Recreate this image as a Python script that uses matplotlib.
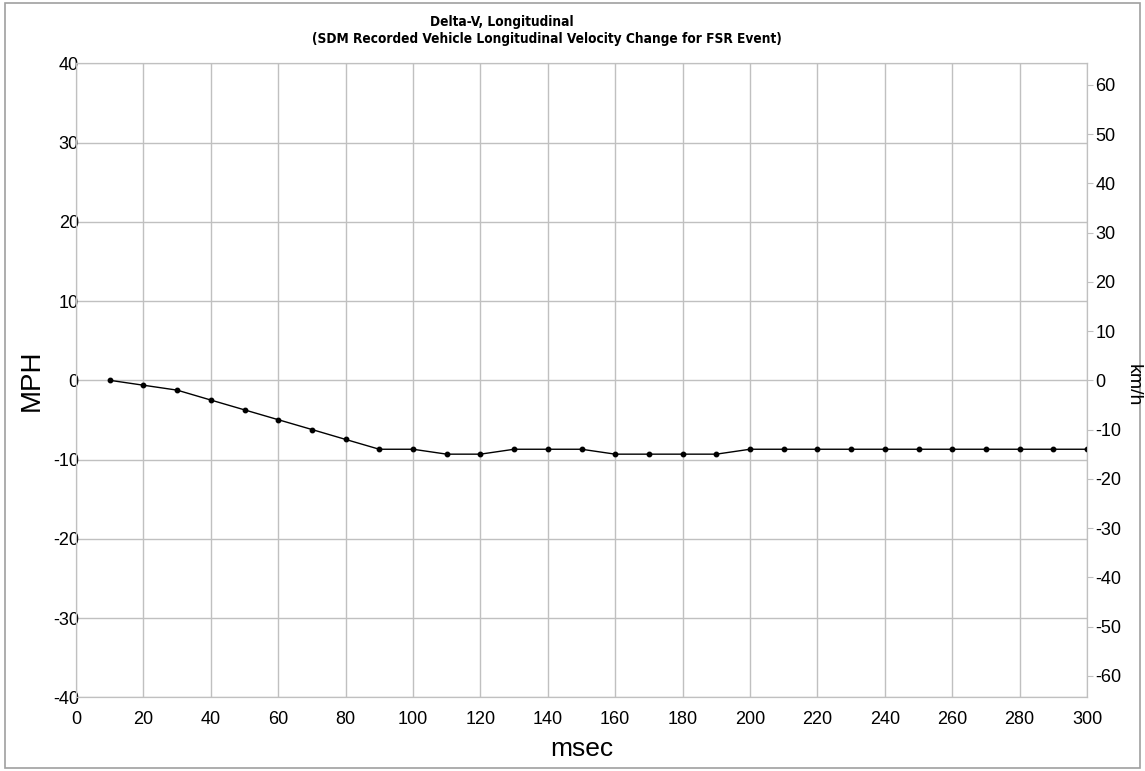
#
# Delta-V longitudinal (SDM recorded) - MPH on the left, km/h on the right
#
import numpy as np
import matplotlib
matplotlib.use("Agg")
import matplotlib.pyplot as plt
from matplotlib.patches import Rectangle

plt.rcParams['font.family'] = ['Liberation Sans', 'DejaVu Sans']
plt.rcParams['axes.unicode_minus'] = False

#
# data
#
msec = [10, 20, 30, 40, 50, 60, 70, 80, 90, 100,
        110, 120, 130, 140, 150, 160, 170, 180, 190, 200,
        210, 220, 230, 240, 250, 260, 270, 280, 290, 300]
mph = [0.0, -0.62, -1.24, -2.49, -3.73, -4.97, -6.21, -7.46, -8.70, -8.70,
       -9.32, -9.32, -8.70, -8.70, -8.70, -9.32, -9.32, -9.32, -9.32, -8.70,
       -8.70, -8.70, -8.70, -8.70, -8.70, -8.70, -8.70, -8.70, -8.70, -8.70]

xticks = np.arange(0, 301, 20)
yticks = np.arange(-40, 41, 10)
kmh_ticks = np.arange(-60, 61, 10)
KMH_PER_MPH = 1.609344

grid_col = '#c0c0c0'

fig = plt.figure(figsize=(11.45, 7.71), dpi=100)
ax = fig.add_axes([76/1145, 1 - 697.3/771, (1087 - 76)/1145, (697.3 - 63.3)/771])

ax.plot(msec, mph, color='black', lw=1.0, marker='o', ms=3.2, zorder=3)

ax.set_xlim(0, 300)
ax.set_ylim(-40, 40)
ax.set_xticks(xticks)
ax.set_yticks(yticks)
ax.grid(True, color=grid_col, lw=1.0)
ax.tick_params(axis='x', length=0, pad=10, labelsize=13)
ax.tick_params(axis='y', length=0, pad=-2, labelsize=13)
for s in ax.spines.values():
    s.set_color(grid_col)

ax.set_xlabel('msec', fontsize=19, labelpad=6)
ax.set_ylabel('MPH', fontsize=20, labelpad=6)

# second scale in km/h
ax2 = ax.twinx()
ax2.set_ylim(-40 * KMH_PER_MPH, 40 * KMH_PER_MPH)
ax2.set_yticks(kmh_ticks)
ax2.tick_params(axis='y', length=4, color=grid_col, pad=2, labelsize=13)
for s in ax2.spines.values():
    s.set_color(grid_col)
fig.text(1133/1145, 1 - 385/771, 'km/h', rotation=-90, ha='center', va='center',
         fontsize=14)

# title, two lines not centred the same way
tfont = ['DejaVu Sans']
fig.text(502/1145, 1 - 22/771, 'Delta-V, Longitudinal', ha='center', va='center',
         fontsize=9.8, fontweight='bold', fontstretch='condensed', family=tfont)
fig.text(547/1145, 1 - 38.5/771,
         '(SDM Recorded Vehicle Longitudinal Velocity Change for FSR Event)',
         ha='center', va='center', fontsize=9.8, fontweight='bold',
         fontstretch='condensed', family=tfont)

# outer frame
fig.add_artist(Rectangle((5/1145, 3/771), (1140 - 5)/1145, (768 - 3)/771,
                         transform=fig.transFigure, fill=False,
                         edgecolor='#a0a0a0', lw=1.2))

fig.savefig('out.png', dpi=100)
